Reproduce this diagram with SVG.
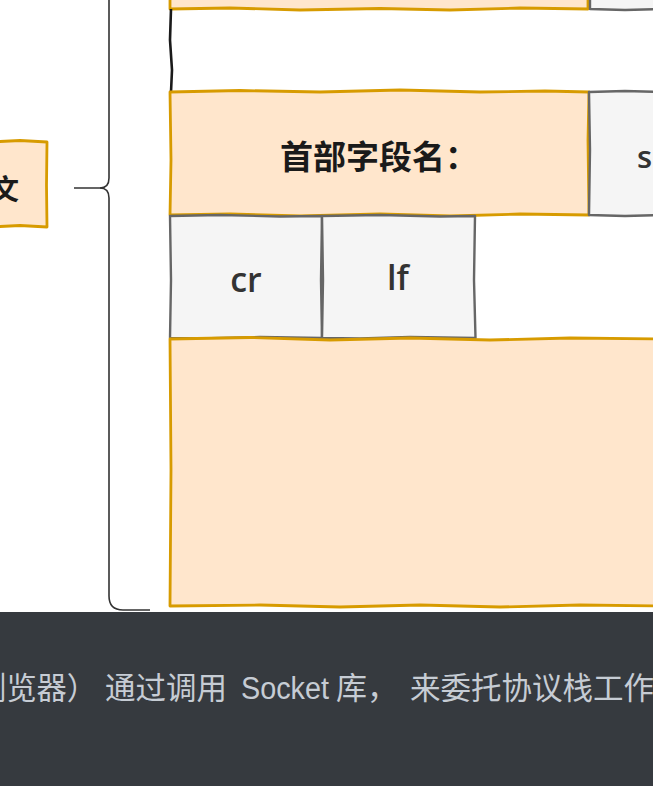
<svg xmlns="http://www.w3.org/2000/svg" width="653" height="786" viewBox="0 0 653 786">
<style>
.org{fill:#ffe6cc;stroke:#d79b00;stroke-width:2.8;stroke-linejoin:round}
.gry{fill:#f5f5f5;stroke:#666666;stroke-width:2.4;stroke-linejoin:round}
.brace{fill:none;stroke:#333333;stroke-width:1.6}
.cjk{font-family:"Noto Sans CJK SC","Liberation Sans",sans-serif;font-weight:bold;fill:#1a1a1a}
.lat{font-family:"Open Sans","Liberation Sans",sans-serif;font-weight:600;fill:#333333}
.cap{font-family:"Liberation Sans","Noto Sans CJK SC",sans-serif;font-size:31px;fill:#c6ccd4}
</style>
<rect width="653" height="786" fill="#ffffff"/>

<g id="top-box">
  <path class="org" d="M170,-20 L588,-20 L588,9 L520,8 L450,10 L380,8.5 L300,10 L230,8 L170,9 Z"/>
</g>
<g id="top-right-box">
  <path class="gry" d="M590,-20 L662,-20 L662,9 L625,10 L590,9 Z"/>
</g>
<g id="blank-row">
  <path d="M171,9 L170,40 L172,70 L171,92" fill="none" stroke="#1a1a1a" stroke-width="2.6"/>
</g>

<g id="left-node">
  <path class="org" d="M-10,142 L20,140.5 L47,142 L46.5,185 L47,227 L20,225.5 L-10,227 Z"/>
  <text class="cjk" x="-9" y="200" font-size="28">文</text>
</g>

<g id="connectors">
  <path class="brace" d="M74,188 L100,188 Q109,188 109,178 L109,-10"/>
  <path class="brace" d="M100,188 Q109,188 109,198 L109,596 Q109,610 123,610 L150,610"/>
</g>

<g id="header-name">
  <path class="org" d="M170,92 L240,90.5 L320,92 L400,90 L480,92 L545,91 L589,92 L588,140 L589,215 L520,214 L450,216 L380,214 L300,216 L230,214 L170,215 L171,160 Z"/>
  <text class="cjk" x="280" y="169" font-size="33">首部字段名：</text>
</g>

<g id="sp-box">
  <path class="gry" d="M589,92 L625,91 L662,92 L662,215 L625,216 L589,215 L590,150 Z"/>
  <text class="lat" x="637" y="168" font-size="31" font-weight="700">s</text>
</g>

<g id="cr-box">
  <path class="gry" d="M170,216 L220,215 L280,216.5 L322,216 L321,280 L322,338 L260,337 L200,338.5 L170,338 L171,280 Z"/>
  <text class="lat" x="246" y="292" font-size="34" text-anchor="middle">cr</text>
</g>

<g id="lf-box">
  <path class="gry" d="M322,216 L380,215 L440,216.5 L475,216 L474,280 L475.5,338 L410,337 L360,338.5 L322,338 L323,280 Z"/>
  <text class="lat" x="398" y="290" font-size="34" text-anchor="middle">lf</text>
</g>

<g id="body-box">
  <path class="org" d="M170,339 L250,337.5 L330,340 L410,338 L490,340 L570,338 L662,339 L662,606 L580,605 L500,607 L420,605 L340,607 L260,605 L170,606 L171,470 Z"/>
</g>

<rect x="0" y="612" width="653" height="174" fill="#363a3f"/>
<text class="cap" y="699"><tspan x="-54" textLength="151" lengthAdjust="spacingAndGlyphs">（浏览器）</tspan><tspan x="105" textLength="122" lengthAdjust="spacingAndGlyphs">通过调用</tspan><tspan x="241" textLength="88" lengthAdjust="spacingAndGlyphs">Socket</tspan><tspan x="336" textLength="62" lengthAdjust="spacingAndGlyphs">库，</tspan><tspan x="410" textLength="244" lengthAdjust="spacingAndGlyphs">来委托协议栈工作</tspan></text>
</svg>
